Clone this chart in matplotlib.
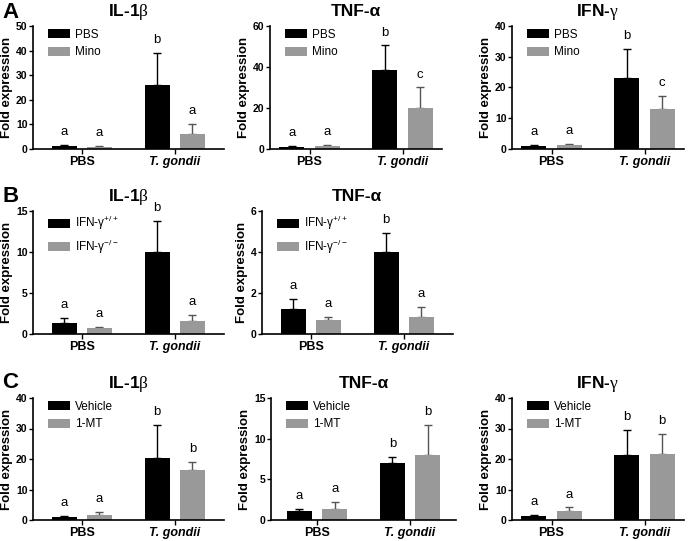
import matplotlib
matplotlib.use('Agg')
import matplotlib.pyplot as plt
import numpy as np

plt.rcParams['font.family'] = ['Liberation Sans', 'DejaVu Sans']
plt.rcParams['mathtext.fontset'] = 'custom'
plt.rcParams['mathtext.rm'] = 'Liberation Serif'
plt.rcParams['mathtext.sf'] = 'Liberation Sans'

groups = ['PBS', 'T. gondii']

# order of every list: PBS/black, PBS/grey, T. gondii/black, T. gondii/grey
a_legend = ['PBS', 'Mino']
a_il1b_mean = [1.2, 1.0, 26.2, 6.2]
a_il1b_err = [0.3, 0.4, 13.0, 4.1]
a_il1b_sig = ['a', 'a', 'b', 'a']
a_tnf_mean = [1.2, 1.3, 38.5, 20.0]
a_tnf_err = [0.3, 0.5, 12.0, 10.0]
a_tnf_sig = ['a', 'a', 'b', 'c']
a_ifn_mean = [1.0, 1.2, 23.2, 13.1]
a_ifn_err = [0.2, 0.3, 9.2, 4.0]
a_ifn_sig = ['a', 'a', 'b', 'c']

b_legend = [r'IFN-γ$^{\mathsf{+/+}}$', r'IFN-γ$^{\mathsf{-/-}}$']
b_il1b_mean = [1.4, 0.7, 10.0, 1.6]
b_il1b_err = [0.6, 0.15, 3.8, 0.7]
b_il1b_sig = ['a', 'a', 'b', 'a']
b_tnf_mean = [1.2, 0.7, 4.0, 0.85]
b_tnf_err = [0.5, 0.12, 0.95, 0.45]
b_tnf_sig = ['a', 'a', 'b', 'a']

c_legend = ['Vehicle', '1-MT']
c_il1b_mean = [1.1, 1.7, 20.2, 16.3]
c_il1b_err = [0.3, 0.8, 11.0, 2.7]
c_il1b_sig = ['a', 'a', 'b', 'b']
c_tnf_mean = [1.05, 1.4, 7.0, 7.95]
c_tnf_err = [0.35, 0.8, 0.75, 3.7]
c_tnf_sig = ['a', 'a', 'b', 'b']
c_ifn_mean = [1.3, 3.0, 21.3, 21.5]
c_ifn_err = [0.3, 1.1, 8.3, 6.8]
c_ifn_sig = ['a', 'a', 'b', 'b']

W, H = 696, 541
fig = plt.figure(figsize=(W / 100, H / 100), dpi=100)

colors = ['#000000', '#999999']
ecolors = ['#000000', '#555555']


def set_title(ax, name):
    # IL-1b / IFN-g use a thin serif greek letter, TNF-a is all bold
    label = {'IL-1β': r'IL-1$\mathrm{\beta}$', 'IFN-γ': r'IFN-$\mathrm{\gamma}$'}.get(name, name)
    ax.set_title(label, fontsize=12.5, fontweight='bold', pad=7)


def panel(x0, ytop, ybot, pad, ymax, ystep, mean, err, sig, title, legend):
    width = (1.65 + 2 * pad) * 93
    ax = fig.add_axes([x0 / W, 1 - ybot / H, width / W, (ybot - ytop) / H])
    m = np.array(mean).reshape(2, 2)
    e = np.array(err).reshape(2, 2)
    s = np.array(sig).reshape(2, 2)
    x = np.arange(2)
    for j in range(2):
        xs = x + (j - 0.5) * 0.38
        ax.bar(xs, m[:, j], 0.27, color=colors[j], label=legend[j], zorder=2)
        ax.errorbar(xs, m[:, j], yerr=[np.zeros(2), e[:, j]], fmt='none',
                    ecolor=ecolors[j], elinewidth=1, capsize=3, capthick=1, zorder=1)
        for xi, top, lab in zip(xs, m[:, j] + e[:, j], s[:, j]):
            ax.annotate(lab, (xi, top), xytext=(0, 5), textcoords='offset points',
                        ha='center', va='bottom', fontsize=9.5)
    ax.set_xlim(-0.325 - pad, 1.325 + pad)
    ax.set_ylim(0, ymax)
    ax.set_yticks(np.arange(0, ymax + ystep / 2, ystep))
    ax.set_xticks(x)
    ax.set_xticklabels(groups, fontsize=9, fontweight='bold')
    ax.get_xticklabels()[1].set_style('italic')
    for t in ax.get_yticklabels():
        t.set_fontweight('bold')
        t.set_fontsize(7.5)
    ax.tick_params(axis='y', length=3, width=1, pad=1)
    ax.tick_params(axis='x', length=3.5, width=1, pad=1.5)
    for sp in ['top', 'right']:
        ax.spines[sp].set_visible(False)
    for sp in ['left', 'bottom']:
        ax.spines[sp].set_linewidth(1.2)
    ax.set_ylabel('Fold expression', fontsize=9.5, fontweight='bold', labelpad=2)
    set_title(ax, title)
    ax.legend(loc='upper left', bbox_to_anchor=(15 / width, 1 - 3 / (ybot - ytop)),
              frameon=False, fontsize=8.5, borderpad=0, borderaxespad=0,
              handlelength=1.9, handleheight=0.8, handletextpad=0.4,
              labelspacing=0.45)
    return ax


panel(33, 26, 149, 0.2, 50, 10, a_il1b_mean, a_il1b_err, a_il1b_sig, 'IL-1β', a_legend)
panel(270, 26, 149, 0.1, 60, 20, a_tnf_mean, a_tnf_err, a_tnf_sig, 'TNF-α', a_legend)
panel(512, 26, 149, 0.1, 40, 10, a_ifn_mean, a_ifn_err, a_ifn_sig, 'IFN-γ', a_legend)

panel(33, 211, 334, 0.2, 15, 5, b_il1b_mean, b_il1b_err, b_il1b_sig, 'IL-1β', b_legend)
panel(262, 211, 334, 0.2, 6, 2, b_tnf_mean, b_tnf_err, b_tnf_sig, 'TNF-α', b_legend)

panel(33, 398, 520, 0.2, 40, 10, c_il1b_mean, c_il1b_err, c_il1b_sig, 'IL-1β', c_legend)
panel(271, 398, 520, 0.17, 15, 5, c_tnf_mean, c_tnf_err, c_tnf_sig, 'TNF-α', c_legend)
panel(512, 398, 520, 0.1, 40, 10, c_ifn_mean, c_ifn_err, c_ifn_sig, 'IFN-γ', c_legend)

for letter, y in [('A', 2), ('B', 186), ('C', 372)]:
    fig.text(2 / W, 1 - y / H, letter, fontsize=16, fontweight='bold', va='top', ha='left')

fig.savefig('out.png', dpi=100)
